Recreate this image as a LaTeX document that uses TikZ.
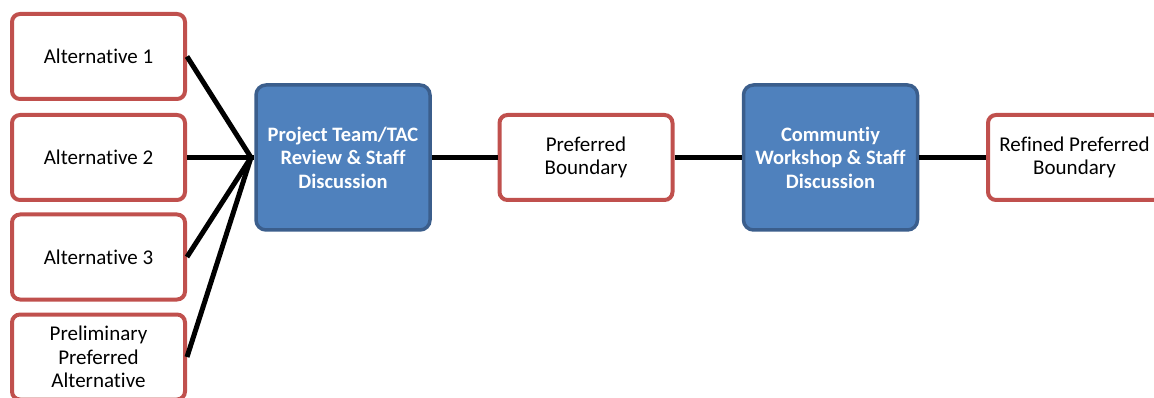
\documentclass[tikz,border=0pt]{standalone}
\usepackage{fontspec}
\setmainfont[Ligatures=NoCommon]{Carlito}
\definecolor{boxred}{HTML}{C0504D}
\definecolor{stepfill}{HTML}{4F81BD}
\definecolor{stepedge}{HTML}{3B5E8C}
\begin{document}
\begin{tikzpicture}[x=1pt,y=-1pt,
  optbox/.style={draw=boxred, line width=4pt, fill=white, rounded corners=8pt,
    minimum width=173pt, minimum height=85pt, inner sep=0pt, align=center,
    font=\fontsize{21}{23.5}\selectfont},
  stagebox/.style={draw=stepedge, line width=3.5pt, fill=stepfill, rounded corners=10pt,
    minimum width=174pt, minimum height=145pt, inner sep=0pt, align=center,
    text=white, font=\fontsize{20.5}{23.5}\selectfont\bfseries},
  link/.style={line width=5pt, black}]
  \useasboundingbox (0,0) rectangle (1154,398);
  \clip (0,0) rectangle (1154,398);

  % alternatives on the left
  \node[optbox] (a1) at (98.5,56.5) {Alternative 1};
  \node[optbox] (a2) at (98.5,157.5) {Alternative 2};
  \node[optbox] (a3) at (98.5,257) {Alternative 3};
  \node[optbox] (a4) at (98.5,357) {Preliminary\\Preferred\\Alternative};

  % review stages and results
  \node[stagebox] (rev) at (343,157.5) {Project Team/TAC\\Review \& Staff\\Discussion};
  \node[optbox] (pref) at (586,157.5) {Preferred\\Boundary};
  \node[stagebox] (ws) at (830.5,157.5) {Communtiy\\Workshop \& Staff\\Discussion};
  \node[optbox] (ref) at (1074.5,157.5) {Refined Preferred\\Boundary};

  % fan-in point in front of the first review
  \coordinate (fan) at (251,157.5);

  \draw[link] (a1.east) -- (fan);
  \draw[link] (a2.east) -- (fan);
  \draw[link] (a3.east) -- (fan);
  \draw[link] (a4.east) -- (fan);
  \draw[link] (fan) -- (rev.west);
  \draw[link] (rev.east) -- (pref.west);
  \draw[link] (pref.east) -- (ws.west);
  \draw[link] (ws.east) -- (ref.west);
\end{tikzpicture}
\end{document}
